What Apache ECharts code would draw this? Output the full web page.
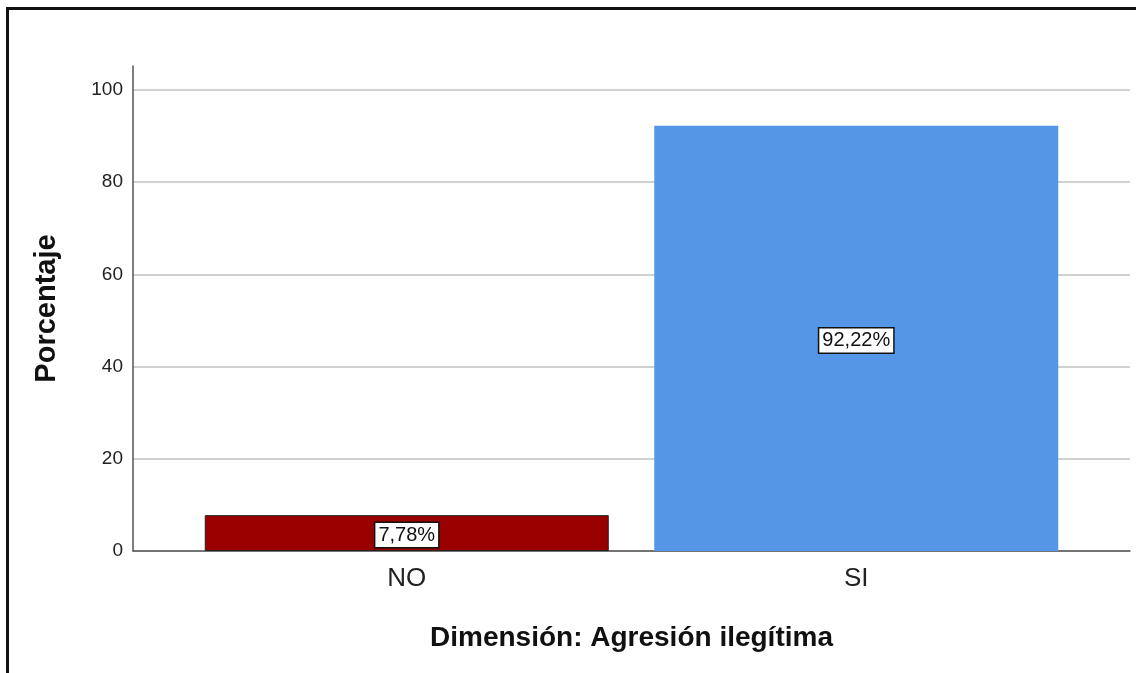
<!DOCTYPE html>
<html>
<head>
<meta charset="utf-8">
<script src="https://cdn.jsdelivr.net/npm/echarts@6/dist/echarts.min.js"></script>
<style>html,body{margin:0;padding:0;background:#fff;}#c{width:1136px;height:673px;}</style>
</head>
<body>
<div id="c"></div>
<script>
var categories = ['NO', 'SI'];
var percentages = [7.78, 92.22];
var barColors = ['#990000', '#5596e6'];
var yTicks = [0, 20, 40, 60, 80, 100];

var chart = echarts.init(document.getElementById('c'));
var font = 'Arimo, "Liberation Sans", Arial, sans-serif';
chart.setOption({
  backgroundColor: '#fff',
  animation: false,
  graphic: [{
    type: 'rect', left: 5, top: 6, z: 100,
    shape: { width: 1200, height: 700 },
    style: { fill: 'none', stroke: '#111', lineWidth: 3 }
  }],
  grid: [
    { left: 133, right: 6, top: 90, bottom: 122 },
    { left: 133, right: 6, top: 66, bottom: 122 },
    { left: 182, right: 55, top: 90, bottom: 122 }
  ],
  xAxis: [
    { gridIndex: 0, type: 'category', data: categories, show: false },
    { gridIndex: 1, type: 'category', data: categories,
      axisLine: { show: true, lineStyle: { color: '#555', width: 1.5 } },
      axisTick: { show: false }, axisLabel: { show: false } },
    { gridIndex: 2, type: 'category', data: categories,
      axisLine: { show: false }, axisTick: { show: false },
      axisLabel: { fontSize: 26, color: '#222', margin: 15, fontFamily: font },
      name: 'Dimensión: Agresión ilegítima', nameLocation: 'middle', nameGap: 73,
      nameTextStyle: { fontSize: 28, fontWeight: 'bold', color: '#111', fontFamily: font } }
  ],
  yAxis: [
    { gridIndex: 0, type: 'value', min: yTicks[0], max: yTicks[yTicks.length - 1], interval: 20,
      axisLine: { show: false }, axisTick: { show: false },
      axisLabel: { fontSize: 19, color: '#222', margin: 10, fontFamily: font },
      splitLine: { show: true, lineStyle: { color: '#d0d0d0', width: 2 } } },
    { gridIndex: 1, type: 'value', min: 0, max: 105.2,
      axisLine: { show: true, lineStyle: { color: '#555', width: 1.5 } },
      axisTick: { show: false }, axisLabel: { show: false }, splitLine: { show: false },
      name: 'Porcentaje', nameLocation: 'middle', nameGap: 72,
      nameTextStyle: { fontSize: 29, fontWeight: 'bold', color: '#111', fontFamily: font } },
    { gridIndex: 2, type: 'value', min: yTicks[0], max: yTicks[yTicks.length - 1], show: false,
      splitLine: { show: false } }
  ],
  series: [{
    type: 'bar', xAxisIndex: 2, yAxisIndex: 2, barWidth: 404,
    data: percentages.map(function (v, i) {
      return { value: v, itemStyle: { color: barColors[i], borderColor: i === 0 ? '#222' : barColors[i], borderWidth: i === 0 ? 1 : 0 } };
    }),
    label: {
      show: true, position: 'inside', offset: [0, 2],
      formatter: function (p) { return p.value.toFixed(2).replace('.', ',') + '%'; },
      backgroundColor: '#fff', borderColor: '#111', borderWidth: 1.5,
      padding: [3, 3, 1, 3], color: '#111', fontSize: 20, fontFamily: font
    }
  }]
});
</script>
</body>
</html>
